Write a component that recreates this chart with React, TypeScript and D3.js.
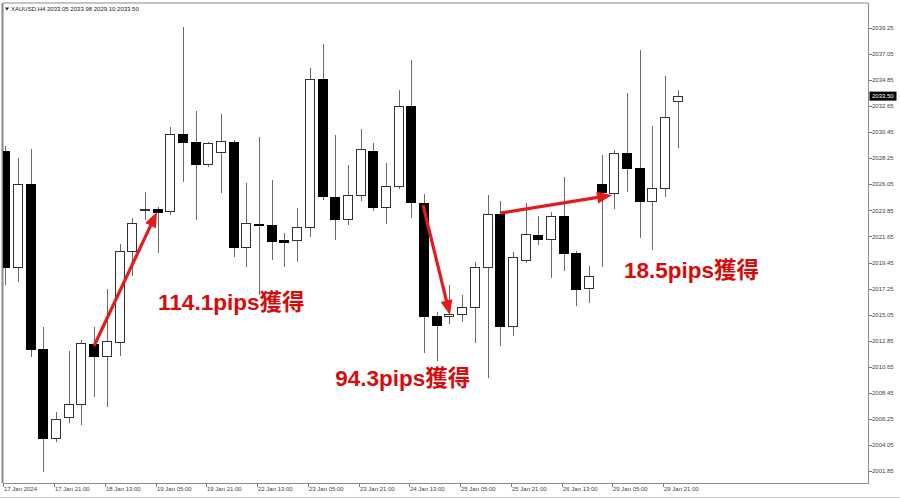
import React from "react";
import * as d3 from "d3";

// XAUUSD H4 candles, 17 Jan 2024 05:00 .. 30 Jan 2024 01:00
const symbol = "XAUUSD,H4";
const opens = [
  2028.88, 2019.09, 2026.04, 2012.15, 2004.66, 2006.43, 2007.5, 2012.57, 2011.55, 2012.76,
  2020.44, 2023.85, 2023.96, 2023.79, 2030.29, 2029.61, 2027.76, 2028.8, 2029.64, 2020.78,
  2022.74, 2022.61, 2021.32, 2021.34, 2022.47, 2034.96, 2025.0, 2023.12, 2025.14, 2028.85,
  2024.13, 2025.9, 2032.68, 2024.49, 2014.93, 2014.93, 2015.1, 2015.69, 2019.07, 2023.54,
  2014.11, 2019.66, 2021.79, 2021.43, 2023.37, 2020.25, 2017.29, 2026.07, 2025.34, 2028.71,
  2027.39, 2024.63, 2025.76, 2033.05,
];
const highs = [
  2029.3, 2028.26, 2029.02, 2014.0, 2006.83, 2012.0, 2012.9, 2014.0, 2017.21, 2021.01,
  2023.2, 2025.42, 2024.1, 2030.88, 2039.32, 2032.26, 2029.61, 2031.98, 2029.78, 2026.15,
  2030.06, 2026.41, 2021.93, 2024.04, 2035.86, 2037.88, 2030.2, 2027.67, 2030.71, 2029.53,
  2027.84, 2034.0, 2036.53, 2025.23, 2015.29, 2017.55, 2016.7, 2019.51, 2025.14, 2024.66,
  2020.36, 2024.49, 2023.39, 2023.73, 2026.69, 2020.4, 2019.18, 2028.52, 2028.94, 2033.77,
  2037.38, 2030.96, 2035.18, 2033.98,
];
const lows = [
  2017.55, 2017.8, 2011.47, 2001.79, 2004.32, 2005.9, 2005.73, 2008.12, 2007.28, 2011.55,
  2018.31, 2023.03, 2020.25, 2023.45, 2026.26, 2023.03, 2027.5, 2025.31, 2019.91, 2019.07,
  2016.7, 2019.66, 2019.07, 2019.51, 2021.62, 2024.72, 2021.34, 2022.61, 2024.66, 2023.79,
  2022.69, 2025.65, 2023.2, 2011.81, 2011.16, 2014.26, 2014.45, 2012.65, 2009.7, 2012.42,
  2013.27, 2019.4, 2020.92, 2018.16, 2018.75, 2015.77, 2016.03, 2019.09, 2023.96, 2025.42,
  2021.54, 2020.5, 2025.0, 2029.1,
];
const closes = [
  2019.09, 2026.04, 2012.15, 2004.66, 2006.24, 2007.5, 2012.65, 2011.55, 2012.82, 2020.44,
  2022.78, 2023.95, 2023.71, 2030.29, 2029.61, 2027.76, 2029.53, 2029.7, 2020.78, 2022.78,
  2022.61, 2021.28, 2021.15, 2022.47, 2034.96, 2025.06, 2023.09, 2025.12, 2029.02, 2024.13,
  2025.93, 2032.68, 2024.55, 2014.96, 2014.2, 2015.1, 2015.69, 2019.07, 2023.54, 2014.11,
  2019.91, 2021.85, 2021.43, 2023.37, 2020.25, 2017.21, 2018.31, 2025.42, 2028.71, 2027.39,
  2024.63, 2025.76, 2031.75, 2033.5,
];

const priceTicks = [
  2039.25, 2037.05, 2034.85, 2032.65, 2030.45, 2028.25, 2026.05, 2023.85, 2021.65,
  2019.45, 2017.25, 2015.05, 2012.85, 2010.65, 2008.45, 2006.25, 2004.05, 2001.85,
];
const timeTickBars = [0, 4, 8, 12, 16, 20, 24, 28, 32, 36, 40, 44, 48, 52];
const timeTickLabels = [
  "17 Jan 2024", "17 Jan 21:00", "18 Jan 13:00", "19 Jan 05:00", "19 Jan 21:00",
  "22 Jan 13:00", "23 Jan 05:00", "23 Jan 21:00", "24 Jan 13:00", "25 Jan 05:00",
  "25 Jan 21:00", "26 Jan 13:00", "29 Jan 05:00", "29 Jan 21:00",
];

// annotations, in (bar index, price)
const gainTexts = ["114.1pips獲得", "94.3pips獲得", "18.5pips獲得"];
const gainTextAt = [[12.04, 2016.1], [26.0, 2009.7], [48.75, 2018.8]];
const arrowFrom = [[6.99, 2012.4], [32.92, 2024.3], [38.98, 2023.62]];
const arrowTo = [[11.95, 2023.71], [35.04, 2015.01], [47.81, 2025.14]];

const W = 900;
const H = 499;
const frame = { left: 3, right: 868, top: 3, bottom: 483 };
const arrowRed = "#e31b1b";
const textRed = "#d90a0a";
const axisFont = "'Liberation Sans', Arial, sans-serif";

export default function App() {
  const x = d3.scaleLinear().domain([0, 1]).range([5.3, 17.99]);
  const y = d3.scaleLinear().domain([2001.85, 2039.25]).range([471, 28]);
  const bodyW = 9;
  const last = opens.length - 1;
  const header = `${symbol}  ${[opens[last], highs[last], lows[last], closes[last]]
    .map((v) => v.toFixed(2))
    .join(" ")}`;

  const arrow = (i: number) => {
    const x0 = x(arrowFrom[i][0]);
    const y0 = y(arrowFrom[i][1]);
    const x1 = x(arrowTo[i][0]);
    const y1 = y(arrowTo[i][1]);
    const len = Math.hypot(x1 - x0, y1 - y0);
    const ux = (x1 - x0) / len;
    const uy = (y1 - y0) / len;
    const headL = 15;
    const headW = 6;
    const bx = x1 - ux * headL;
    const by = y1 - uy * headL;
    const pts = [
      [x1, y1],
      [bx - uy * headW, by + ux * headW],
      [bx + uy * headW, by - ux * headW],
    ];
    return (
      <g key={"arrow" + i}>
        <line x1={x0} y1={y0} x2={bx + ux * 2} y2={by + uy * 2} stroke={arrowRed} strokeWidth={3.2} />
        <polygon points={pts.map((p) => p.join(",")).join(" ")} fill={arrowRed} />
      </g>
    );
  };

  return (
    <svg
      width={W}
      height={H}
      style={{ position: "absolute", left: 0, top: 0, background: "#fff", display: "block" }}
    >
      <defs>
        <clipPath id="plot">
          <rect
            x={frame.left}
            y={frame.top}
            width={frame.right - frame.left}
            height={frame.bottom - frame.top}
          />
        </clipPath>
      </defs>
      <rect width={W} height={H} fill="#fff" />

      {/* frame */}
      <line x1={frame.left} y1={frame.top} x2={frame.right} y2={frame.top} stroke="#8a8a8a" />
      <line x1={frame.left - 0.5} y1={frame.top} x2={frame.left - 0.5} y2={frame.bottom} stroke="#8a8a8a" strokeWidth={2} />
      <line x1={frame.right + 0.5} y1={frame.top} x2={frame.right + 0.5} y2={frame.bottom} stroke="#8a8a8a" />
      <line x1={frame.left} y1={frame.bottom + 0.5} x2={frame.right + 1} y2={frame.bottom + 0.5} stroke="#8a8a8a" />
      <line x1={0} y1={497.5} x2={W} y2={497.5} stroke="#c8c8c8" />

      {/* header */}
      <path d="M5,7.5 L9,7.5 L7,10.5 Z" fill="#222" />
      <text x={11} y={11} fontSize={6} fontFamily={axisFont} fill="#222">
        {header}
      </text>

      {/* price axis */}
      {priceTicks.map((p) => (
        <g key={p}>
          <line
            x1={frame.right + 1}
            x2={frame.right + 4}
            y1={Math.round(y(p)) + 0.5}
            y2={Math.round(y(p)) + 0.5}
            stroke="#777"
          />
          <text
            x={frame.right + 4}
            y={y(p)}
            dy="0.35em"
            fontSize={6}
            fontFamily={axisFont}
            fill="#444"
          >
            {p.toFixed(2)}
          </text>
        </g>
      ))}
      <rect x={frame.right + 1.5} y={y(closes[last]) - 4.5} width={27} height={9} fill="#000" />
      <text
        x={frame.right + 4}
        y={y(closes[last])}
        dy="0.35em"
        fontSize={6}
        fontFamily={axisFont}
        fill="#fff"
      >
        {closes[last].toFixed(2)}
      </text>

      {/* time axis */}
      {timeTickBars.map((b, k) => (
        <g key={b}>
          <line
            x1={Math.round(x(b)) - 1.5}
            x2={Math.round(x(b)) - 1.5}
            y1={frame.bottom + 1}
            y2={frame.bottom + 4}
            stroke="#777"
          />
          <text
            x={k === 0 ? 4 : Math.round(x(b)) - 1}
            y={frame.bottom + 8}
            fontSize={6}
            fontFamily={axisFont}
            fill="#444"
          >
            {timeTickLabels[k]}
          </text>
        </g>
      ))}

      {/* candles */}
      <g clipPath="url(#plot)" shapeRendering="crispEdges">
        {opens.map((o, i) => {
          const cx = Math.round(x(i));
          const c = closes[i];
          const up = c >= o;
          const top = Math.round(y(Math.max(o, c)));
          const bot = Math.round(y(Math.min(o, c)));
          return (
            <g key={i}>
              <line
                x1={cx + 0.5}
                x2={cx + 0.5}
                y1={y(highs[i])}
                y2={y(lows[i])}
                stroke="#6a6a6a"
              />
              <rect
                x={cx - bodyW / 2}
                y={top + 0.5}
                width={bodyW}
                height={Math.max(bot - top, 1)}
                fill={up ? "#fff" : "#000"}
                stroke={up ? "#333" : "#000"}
              />
            </g>
          );
        })}
      </g>

      {/* annotations */}
      {arrowFrom.map((_, i) => arrow(i))}
      {gainTexts.map((t, i) => (
        <text
          key={t}
          x={x(gainTextAt[i][0])}
          y={y(gainTextAt[i][1])}
          dy="0.36em"
          fontSize={22.5}
          fontWeight="bold"
          fontFamily="'Liberation Sans', Arial, 'Noto Sans CJK JP', sans-serif"
          fill={textRed}
        >
          {t}
        </text>
      ))}
    </svg>
  );
}
